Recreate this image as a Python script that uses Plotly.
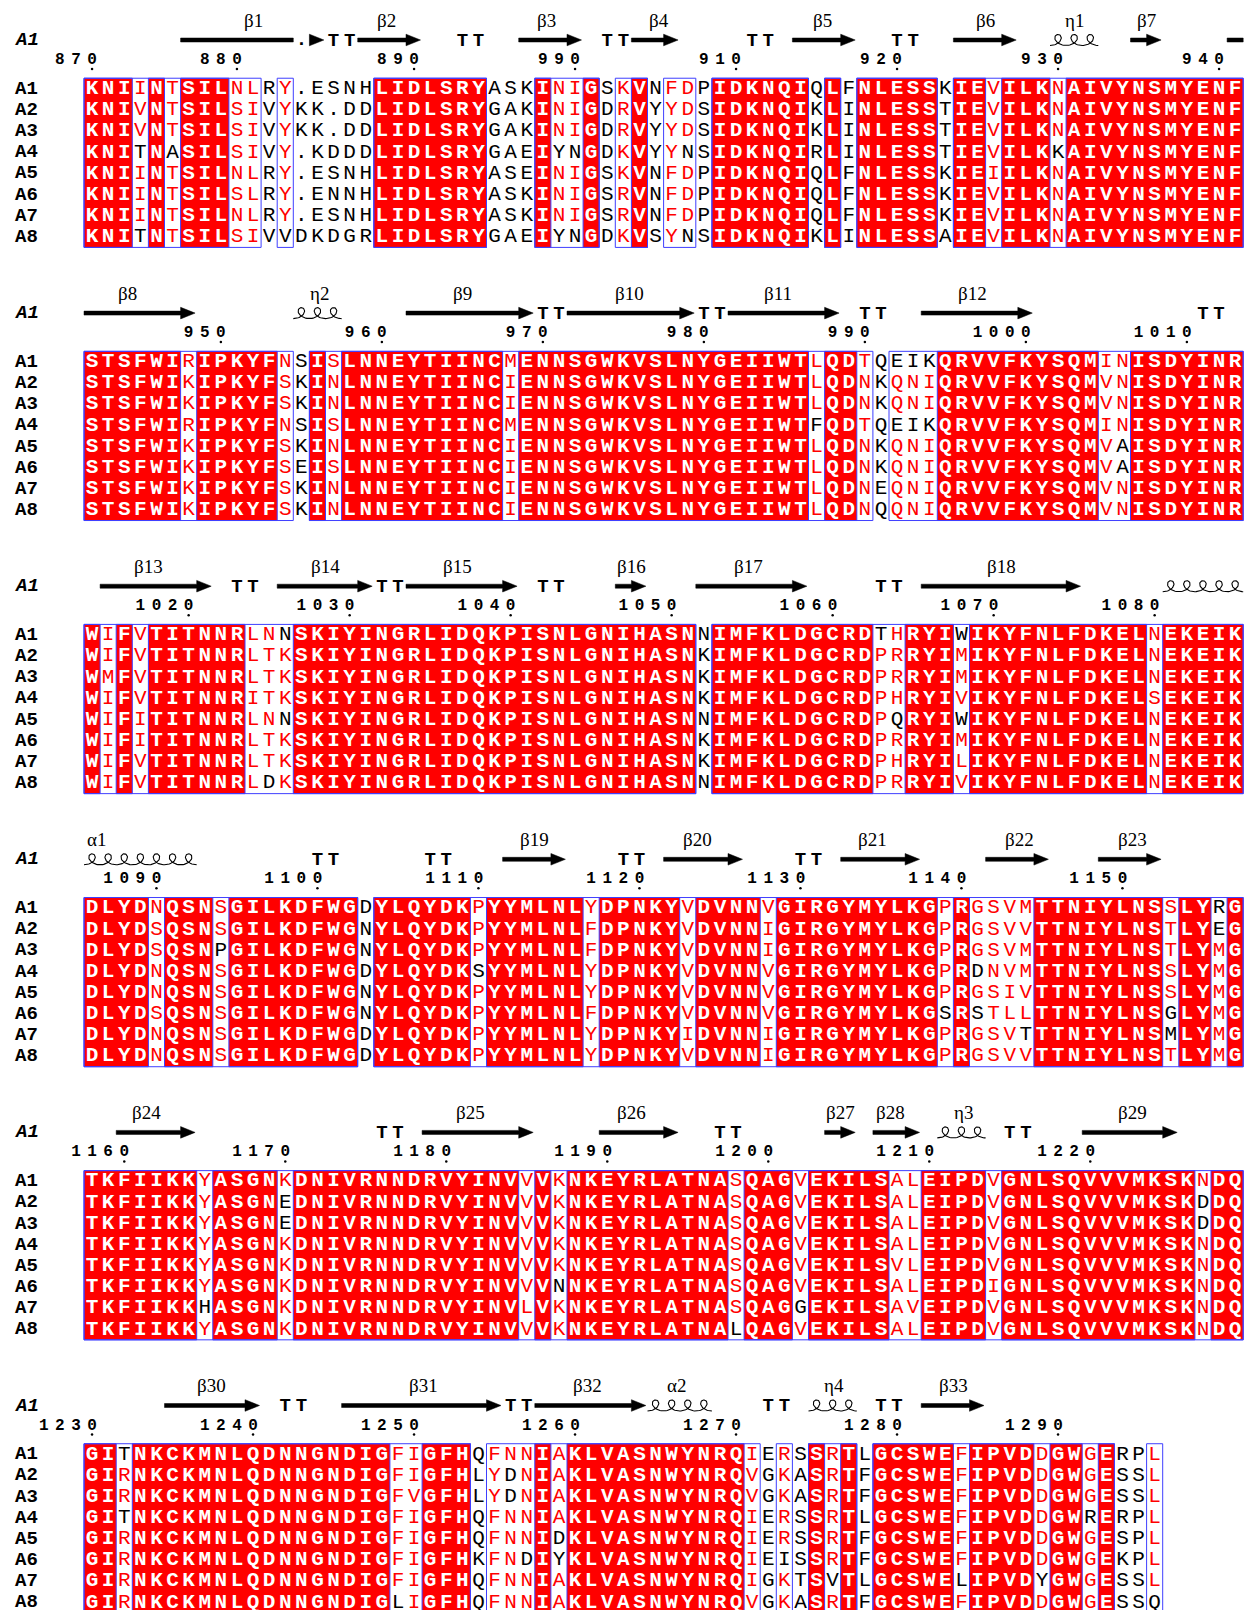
import numpy as np
import plotly.graph_objects as go

# ---------------------------------------------------------------- data
ROW_NAMES = ["A1", "A2", "A3", "A4", "A5", "A6", "A7", "A8"]

SEQ_B1 = [
    "KNIINTSILNLRY.ESNHLIDLSRYASKINIGSKVNFDPIDKNQIQLFNLESSKIEVILKNAIVYNSMYENF",
    "KNIVNTSILSIVYKK.DDLIDLSRYGAKINIGDRVYYDSIDKNQIKLINLESSTIEVILKNAIVYNSMYENF",
    "KNIVNTSILSIVYKK.DDLIDLSRYGAKINIGDRVYYDSIDKNQIKLINLESSTIEVILKNAIVYNSMYENF",
    "KNITNASILSIVY.KDDDLIDLSRYGAEIYNGDKVYYNSIDKNQIRLINLESSTIEVILKKAIVYNSMYENF",
    "KNIINTSILNLRY.ESNHLIDLSRYASEINIGSKVNFDPIDKNQIQLFNLESSKIEIILKNAIVYNSMYENF",
    "KNIINTSILSLRY.ENNHLIDLSRYASKINIGSRVNFDPIDKNQIQLFNLESSKIEVILKNAIVYNSMYENF",
    "KNIINTSILNLRY.ESNHLIDLSRYASKINIGSRVNFDPIDKNQIQLFNLESSKIEVILKNAIVYNSMYENF",
    "KNITNTSILSIVVDKDGRLIDLSRYGAEIYNGDKVSYNSIDKNQIKLINLESSAIEVILKNAIVYNSMYENF",
]
SEQ_B2 = [
    "STSFWIRIPKYFNSISLNNEYTIINCMENNSGWKVSLNYGEIIWTLQDTQEIKQRVVFKYSQMINISDYINR",
    "STSFWIKIPKYFSKINLNNEYTIINCIENNSGWKVSLNYGEIIWTLQDNKQNIQRVVFKYSQMVNISDYINR",
    "STSFWIKIPKYFSKINLNNEYTIINCIENNSGWKVSLNYGEIIWTLQDNKQNIQRVVFKYSQMVNISDYINR",
    "STSFWIRIPKYFNSISLNNEYTIINCMENNSGWKVSLNYGEIIWTFQDTQEIKQRVVFKYSQMINISDYINR",
    "STSFWIKIPKYFSKINLNNEYTIINCIENNSGWKVSLNYGEIIWTLQDNKQNIQRVVFKYSQMVAISDYINR",
    "STSFWIKIPKYFSEISLNNEYTIINCIENNSGWKVSLNYGEIIWTLQDNKQNIQRVVFKYSQMVAISDYINR",
    "STSFWIKIPKYFSKINLNNEYTIINCIENNSGWKVSLNYGEIIWTLQDNEQNIQRVVFKYSQMVNISDYINR",
    "STSFWIKIPKYFSKINLNNEYTIINCIENNSGWKVSLNYGEIIWTLQDNQQNIQRVVFKYSQMVNISDYINR",
]
SEQ_B3 = [
    "WIFVTITNNRLNNSKIYINGRLIDQKPISNLGNIHASNNIMFKLDGCRDTHRYIWIKYFNLFDKELNEKEIK",
    "WIFVTITNNRLTKSKIYINGRLIDQKPISNLGNIHASNKIMFKLDGCRDPRRYIMIKYFNLFDKELNEKEIK",
    "WMFVTITNNRLTKSKIYINGRLIDQKPISNLGNIHASNKIMFKLDGCRDPRRYIMIKYFNLFDKELNEKEIK",
    "WIFVTITNNRITKSKIYINGRLIDQKPISNLGNIHASNKIMFKLDGCRDPHRYIVIKYFNLFDKELSEKEIK",
    "WIFITITNNRLNNSKIYINGRLIDQKPISNLGNIHASNNIMFKLDGCRDPQRYIWIKYFNLFDKELNEKEIK",
    "WIFITITNNRLTKSKIYINGRLIDQKPISNLGNIHASNKIMFKLDGCRDPRRYIMIKYFNLFDKELNEKEIK",
    "WIFVTITNNRLTKSKIYINGRLIDQKPISNLGNIHASNKIMFKLDGCRDPHRYILIKYFNLFDKELNEKEIK",
    "WIFVTITNNRLDKSKIYINGRLIDQKPISNLGNIHASNNIMFKLDGCRDPRRYIVIKYFNLFDKELNEKEIK",
]
SEQ_B4 = [
    "DLYDNQSNSGILKDFWGDYLQYDKPYYMLNLYDPNKYVDVNNVGIRGYMYLKGPRGSVMTTNIYLNSSLYRG",
    "DLYDSQSNSGILKDFWGNYLQYDKPYYMLNLFDPNKYVDVNNIGIRGYMYLKGPRGSVVTTNIYLNSTLYEG",
    "DLYDSQSNPGILKDFWGNYLQYDKPYYMLNLFDPNKYVDVNNIGIRGYMYLKGPRGSVMTTNIYLNSTLYMG",
    "DLYDNQSNSGILKDFWGDYLQYDKSYYMLNLYDPNKYVDVNNVGIRGYMYLKGPRDNVMTTNIYLNSSLYMG",
    "DLYDNQSNSGILKDFWGNYLQYDKPYYMLNLYDPNKYVDVNNVGIRGYMYLKGPRGSIVTTNIYLNSSLYMG",
    "DLYDSQSNSGILKDFWGNYLQYDKPYYMLNLFDPNKYVDVNNVGIRGYMYLKGSRSTLLTTNIYLNSGLYMG",
    "DLYDNQSNSGILKDFWGDYLQYDKPYYMLNLYDPNKYIDVNNIGIRGYMYLKGPRGSVTTTNIYLNSMLYMG",
    "DLYDNQSNSGILKDFWGDYLQYDKPYYMLNLYDPNKYVDVNNIGIRGYMYLKGPRGSVVTTNIYLNSTLYMG",
]
SEQ_B5 = [
    "TKFIIKKYASGNKDNIVRNNDRVYINVVVKNKEYRLATNASQAGVEKILSALEIPDVGNLSQVVVMKSKNDQ",
    "TKFIIKKYASGNEDNIVRNNDRVYINVVVKNKEYRLATNASQAGVEKILSALEIPDVGNLSQVVVMKSKDDQ",
    "TKFIIKKYASGNEDNIVRNNDRVYINVVVKNKEYRLATNASQAGVEKILSALEIPDVGNLSQVVVMKSKDDQ",
    "TKFIIKKYASGNKDNIVRNNDRVYINVVVKNKEYRLATNASQAGVEKILSALEIPDVGNLSQVVVMKSKNDQ",
    "TKFIIKKYASGNKDNIVRNNDRVYINVVVKNKEYRLATNASQAGVEKILSVLEIPDVGNLSQVVVMKSKNDQ",
    "TKFIIKKYASGNKDNIVRNNDRVYINVVVNNKEYRLATNASQAGVEKILSALEIPDIGNLSQVVVMKSKNDQ",
    "TKFIIKKHASGNKDNIVRNNDRVYINVLVKNKEYRLATNASQAGGEKILSAVEIPDVGNLSQVVVMKSKNDQ",
    "TKFIIKKYASGNKDNIVRNNDRVYINVVVKNKEYRLATNALQAGVEKILSALEIPDVGNLSQVVVMKSKNDQ",
]
SEQ_B6 = [
    "GITNKCKMNLQDNNGNDIGFIGFHQFNNIAKLVASNWYNRQIERSSRTLGCSWEFIPVDDGWGERPL",
    "GIRNKCKMNLQDNNGNDIGFIGFHLYDNIAKLVASNWYNRQVGKASRTFGCSWEFIPVDDGWGESSL",
    "GIRNKCKMNLQDNNGNDIGFVGFHLYDNIAKLVASNWYNRQVGKASRTFGCSWEFIPVDDGWGESSL",
    "GITNKCKMNLQDNNGNDIGFIGFHQFNNIAKLVASNWYNRQIERSSRTLGCSWEFIPVDDGWRERPL",
    "GIRNKCKMNLQDNNGNDIGFIGFHQFNNIDKLVASNWYNRQIERSSRTFGCSWEFIPVDDGWGESPL",
    "GIRNKCKMNLQDNNGNDIGFIGFHKFNDIYKLVASNWYNRQIEISSRTFGCSWEFIPVDDGWGEKPL",
    "GIRNKCKMNLQDNNGNDIGFIGFHQFNNIAKLVASNWYNRQIGKTSVTLGCSWELIPVDYGWGESSL",
    "GIRNKCKMNLQDNNGNDIGLIGFHQFNNIAKLVASNWYNRQVGKASRTFGCSWEFIPVDDGWGESSQ",
]

# framed (similar) column runs, inclusive column indices
BOX_B1 = [(0, 10), (12, 12), (18, 24), (28, 31), (33, 34), (36, 37), (39, 44), (46, 46), (48, 52), (54, 71)]
BOX_B2 = [(0, 12), (14, 48), (50, 71)]
BOX_B3 = [(0, 37), (39, 71)]
BOX_B4 = [(0, 16), (18, 71)]
BOX_B5 = [(0, 71)]
BOX_B6 = [(0, 23), (25, 41), (43, 43), (45, 47), (49, 63), (66, 66)]

# residues drawn black inside framed columns: (row, column)
BLACK_B1 = [(3, 3), (7, 3), (3, 5), (7, 12), (3, 29), (7, 29), (3, 30), (7, 30), (3, 37), (7, 37), (3, 60)]
BLACK_B2 = [(3, 45), (0, 50), (3, 50), (0, 51), (3, 51), (0, 52), (3, 52), (4, 64), (5, 64)]
BLACK_B3 = [(7, 11), (0, 12), (4, 12), (0, 49), (4, 50), (0, 54), (4, 54)]
BLACK_B4 = [(2, 8), (3, 24), (5, 53), (3, 55), (5, 55), (6, 58), (5, 67), (6, 67), (0, 70), (1, 70)]
BLACK_B5 = [(6, 7), (1, 12), (2, 12), (5, 29), (7, 40), (6, 44), (1, 69), (2, 69)]
BLACK_B6 = [(0, 2), (3, 2), (7, 19), (1, 26), (2, 26), (5, 27), (4, 29), (5, 29), (5, 43), (6, 46),
            (6, 54), (6, 59), (3, 62), (7, 66)]

# numbering ticks: (column, label)
TICKS_B1 = [(0, "870"), (9, "880"), (20, "890"), (30, "990"), (40, "910"), (50, "920"), (60, "930"), (70, "940")]
TICKS_B2 = [(8, "950"), (18, "960"), (28, "970"), (38, "980"), (48, "990"), (58, "1000"), (68, "1010")]
TICKS_B3 = [(6, "1020"), (16, "1030"), (26, "1040"), (36, "1050"), (46, "1060"), (56, "1070"), (66, "1080")]
TICKS_B4 = [(4, "1090"), (14, "1100"), (24, "1110"), (34, "1120"), (44, "1130"), (54, "1140"), (64, "1150")]
TICKS_B5 = [(2, "1160"), (12, "1170"), (22, "1180"), (32, "1190"), (42, "1200"), (52, "1210"), (62, "1220")]
TICKS_B6 = [(0, "1230"), (10, "1240"), (20, "1250"), (30, "1260"), (40, "1270"), (50, "1280"), (60, "1290")]

# secondary structure of A1: E = strand (start, end, arrow head), H = helix, T = turn (2 cols), gap
SS_B1 = [("E", 6, 12, False), ("gap", 13), ("E", 14, 14, True), ("T", 15), ("E", 17, 20, True), ("T", 23),
         ("E", 27, 30, True), ("T", 32), ("E", 34, 36, True), ("T", 41), ("E", 44, 47, True), ("T", 50),
         ("E", 54, 57, True), ("H", 60, 62), ("E", 65, 66, True), ("E", 71, 71, False)]
SS_B2 = [("E", 0, 6, True), ("H", 13, 15), ("E", 20, 27, True), ("T", 28), ("E", 30, 37, True), ("T", 38),
         ("E", 40, 46, True), ("T", 48), ("E", 52, 58, True), ("T", 69)]
SS_B3 = [("E", 1, 7, True), ("T", 9), ("E", 12, 17, True), ("T", 18), ("E", 20, 26, True), ("T", 28),
         ("E", 33, 34, True), ("E", 38, 44, True), ("T", 49), ("E", 52, 61, True), ("H", 67, 71)]
SS_B4 = [("H", 0, 6), ("T", 14), ("T", 21), ("E", 26, 29, True), ("T", 33), ("E", 36, 40, True), ("T", 44),
         ("E", 47, 51, True), ("E", 56, 59, True), ("E", 63, 66, True)]
SS_B5 = [("E", 2, 6, True), ("T", 18), ("E", 21, 27, True), ("E", 32, 36, True), ("T", 39), ("E", 46, 47, True),
         ("E", 49, 51, True), ("H", 53, 55), ("T", 57), ("E", 62, 67, True)]
SS_B6 = [("E", 5, 10, True), ("T", 12), ("E", 16, 25, True), ("T", 26), ("E", 28, 34, True), ("H", 35, 38),
         ("T", 42), ("H", 45, 47), ("T", 49), ("E", 52, 55, True)]

# secondary structure names and their centre (in column units)
SSLAB_B1 = [("β1", 10.5), ("β2", 18.8), ("β3", 28.7), ("β4", 35.7), ("β5", 45.9), ("β6", 56.0), ("η1", 61.5), ("β7", 66.0)]
SSLAB_B2 = [("β8", 2.7), ("η2", 14.6), ("β9", 23.5), ("β10", 33.9), ("β11", 43.1), ("β12", 55.2)]
SSLAB_B3 = [("β13", 4.0), ("β14", 15.0), ("β15", 23.2), ("β16", 34.0), ("β17", 41.3), ("β18", 57.0)]
SSLAB_B4 = [("α1", 0.8), ("β19", 28.0), ("β20", 38.1), ("β21", 49.0), ("β22", 58.1), ("β23", 65.1)]
SSLAB_B5 = [("β24", 3.9), ("β25", 24.0), ("β26", 34.0), ("β27", 47.0), ("β28", 50.1), ("η3", 54.6), ("β29", 65.1)]
SSLAB_B6 = [("β30", 7.9), ("β31", 21.1), ("β32", 31.3), ("α2", 36.8), ("η4", 46.6), ("β33", 54.0)]

BLOCKS = [
    dict(seqs=SEQ_B1, boxes=BOX_B1, black=BLACK_B1, ticks=TICKS_B1, ss=SS_B1, sslab=SSLAB_B1),
    dict(seqs=SEQ_B2, boxes=BOX_B2, black=BLACK_B2, ticks=TICKS_B2, ss=SS_B2, sslab=SSLAB_B2),
    dict(seqs=SEQ_B3, boxes=BOX_B3, black=BLACK_B3, ticks=TICKS_B3, ss=SS_B3, sslab=SSLAB_B3),
    dict(seqs=SEQ_B4, boxes=BOX_B4, black=BLACK_B4, ticks=TICKS_B4, ss=SS_B4, sslab=SSLAB_B4),
    dict(seqs=SEQ_B5, boxes=BOX_B5, black=BLACK_B5, ticks=TICKS_B5, ss=SS_B5, sslab=SSLAB_B5),
    dict(seqs=SEQ_B6, boxes=BOX_B6, black=BLACK_B6, ticks=TICKS_B6, ss=SS_B6, sslab=SSLAB_B6),
]

# ---------------------------------------------------------------- layout constants
W, H = 1250, 1610
X0, COL_W = 84.0, 16.1          # left edge of column 0 and column width (px)
BLOCK_DY = 273.1
LAB_DY, SS_DY, NUM_DY, DOT_DY = 20.0, 40.0, 60.0, 69.0
ROW0_DY, ROW_H = 88.8, 21.15
LABEL_X = (12.5 - X0) / COL_W
RED, BLUE = "#ff0000", "#3f3fff"
MONO = "Liberation Mono, Courier New, monospace"
SERIF = "Liberation Serif, Times New Roman, serif"
SH, HH, HEAD_L = 2.0, 5.8, 0.9

shapes, annotations = [], []
wx, wy, wt = [], [], []
nx, ny, nt, nc = [], [], [], []
tx, ty, tt = [], [], []
gx, gy, gt = [], [], []
dotx, doty = [], []
hx, hy = [], []

for b, blk in enumerate(BLOCKS):
    top = b * BLOCK_DY
    seqs = blk["seqs"]
    ncol = len(seqs[0])
    ident = [len({s[c] for s in seqs}) == 1 for c in range(ncol)]
    inbox = [False] * ncol
    for s, e in blk["boxes"]:
        for c in range(s, e + 1):
            inbox[c] = True
    black = set(blk["black"])
    rows_y = [top + ROW0_DY + r * ROW_H for r in range(len(seqs))]
    y0, y1 = rows_y[0] - ROW_H / 2, rows_y[-1] + ROW_H / 2

    c = 0
    while c < ncol:
        if ident[c]:
            s = c
            while c + 1 < ncol and ident[c + 1]:
                c += 1
            shapes.append(dict(type="rect", xref="x", yref="y", x0=s, x1=c + 1, y0=y0, y1=y1,
                               fillcolor=RED, line=dict(color=BLUE, width=1), layer="below"))
        c += 1
    for s, e in blk["boxes"]:
        shapes.append(dict(type="rect", xref="x", yref="y", x0=s, x1=e + 1, y0=y0, y1=y1,
                           fillcolor="rgba(0,0,0,0)", line=dict(color=BLUE, width=1), layer="below"))

    for r, seq in enumerate(seqs):
        y = rows_y[r]
        annotations.append(dict(x=LABEL_X, y=y, xref="x", yref="y", text=f"<b>{ROW_NAMES[r]}</b>",
                                showarrow=False, xanchor="left", yanchor="middle",
                                font=dict(family=MONO, size=19, color="black")))
        for c, ch in enumerate(seq):
            if ident[c]:
                wx.append(c + 0.5); wy.append(y); wt.append(ch)
            else:
                nx.append(c + 0.5); ny.append(y); nt.append(ch)
                nc.append(RED if (inbox[c] and (r, c) not in black) else "black")

    # secondary-structure row
    ys = top + SS_DY
    annotations.append(dict(x=LABEL_X, y=ys, xref="x", yref="y", text="<b><i>A1</i></b>",
                            showarrow=False, xanchor="left", yanchor="middle",
                            font=dict(family=MONO, size=19, color="black")))
    for el in blk["ss"]:
        kind = el[0]
        if kind == "E":
            _, s, e, head = el
            if head and s == e:
                path = f"M {s},{ys - HH} L {s + HEAD_L},{ys} L {s},{ys + HH} Z"
            elif head:
                path = (f"M {s},{ys - SH} L {e},{ys - SH} L {e},{ys - HH} L {e + HEAD_L},{ys} "
                        f"L {e},{ys + HH} L {e},{ys + SH} L {s},{ys + SH} Z")
            else:
                path = f"M {s},{ys - SH} L {e + 1},{ys - SH} L {e + 1},{ys + SH} L {s},{ys + SH} Z"
            shapes.append(dict(type="path", xref="x", yref="y", path=path,
                               fillcolor="black", line=dict(color="black", width=0.5)))
        elif kind == "T":
            for k in (0, 1):
                tx.append(el[1] + k + 0.5); ty.append(ys + 1); tt.append("T")
        elif kind == "gap":
            tx.append(el[1] + 0.5); ty.append(ys); tt.append(".")
        elif kind == "H":
            _, s, e = el
            t = np.linspace(0, 2 * np.pi, 48)
            for c in range(s, e + 1):
                hx.extend(list(c + t / (2 * np.pi) + 0.42 * np.sin(t)))
                hy.extend(list(ys + 5.5 - 11 * (1 - np.cos(t)) / 2))
            hx.append(None); hy.append(None)
    for lab, pos in blk["sslab"]:
        annotations.append(dict(x=pos, y=top + LAB_DY, xref="x", yref="y", text=lab, showarrow=False,
                                xanchor="center", yanchor="middle",
                                font=dict(family=SERIF, size=19, color="black")))

    # numbering
    for col, lab in blk["ticks"]:
        n = len(lab)
        for k, d in enumerate(lab):
            gx.append(col - (n - 1 - k) + 0.5); gy.append(top + NUM_DY); gt.append(d)
        dotx.append(col + 0.5); doty.append(top + DOT_DY)

fig = go.Figure()
fig.add_trace(go.Scatter(x=wx, y=wy, text=wt, mode="text", hoverinfo="skip",
                         textfont=dict(family=MONO, size=21, color="white", weight="bold")))
fig.add_trace(go.Scatter(x=nx, y=ny, text=nt, mode="text", hoverinfo="skip",
                         textfont=dict(family=MONO, size=21, color=nc)))
fig.add_trace(go.Scatter(x=tx, y=ty, text=tt, mode="text", hoverinfo="skip",
                         textfont=dict(family=MONO, size=19, color="black", weight="bold")))
fig.add_trace(go.Scatter(x=gx, y=gy, text=gt, mode="text", hoverinfo="skip",
                         textfont=dict(family=MONO, size=16, color="black", weight="bold")))
fig.add_trace(go.Scatter(x=dotx, y=doty, mode="markers", hoverinfo="skip",
                         marker=dict(size=2.5, color="black")))
fig.add_trace(go.Scatter(x=hx, y=hy, mode="lines", hoverinfo="skip",
                         line=dict(color="black", width=1.1)))

fig.update_layout(
    width=W, height=H, autosize=False,
    margin=dict(l=0, r=0, t=0, b=0, pad=0),
    paper_bgcolor="white", plot_bgcolor="white",
    showlegend=False,
    xaxis=dict(range=[-X0 / COL_W, (W - X0) / COL_W], visible=False, fixedrange=True),
    yaxis=dict(range=[H, 0], visible=False, fixedrange=True),
    shapes=shapes, annotations=annotations,
)
fig.write_html("out.html")
